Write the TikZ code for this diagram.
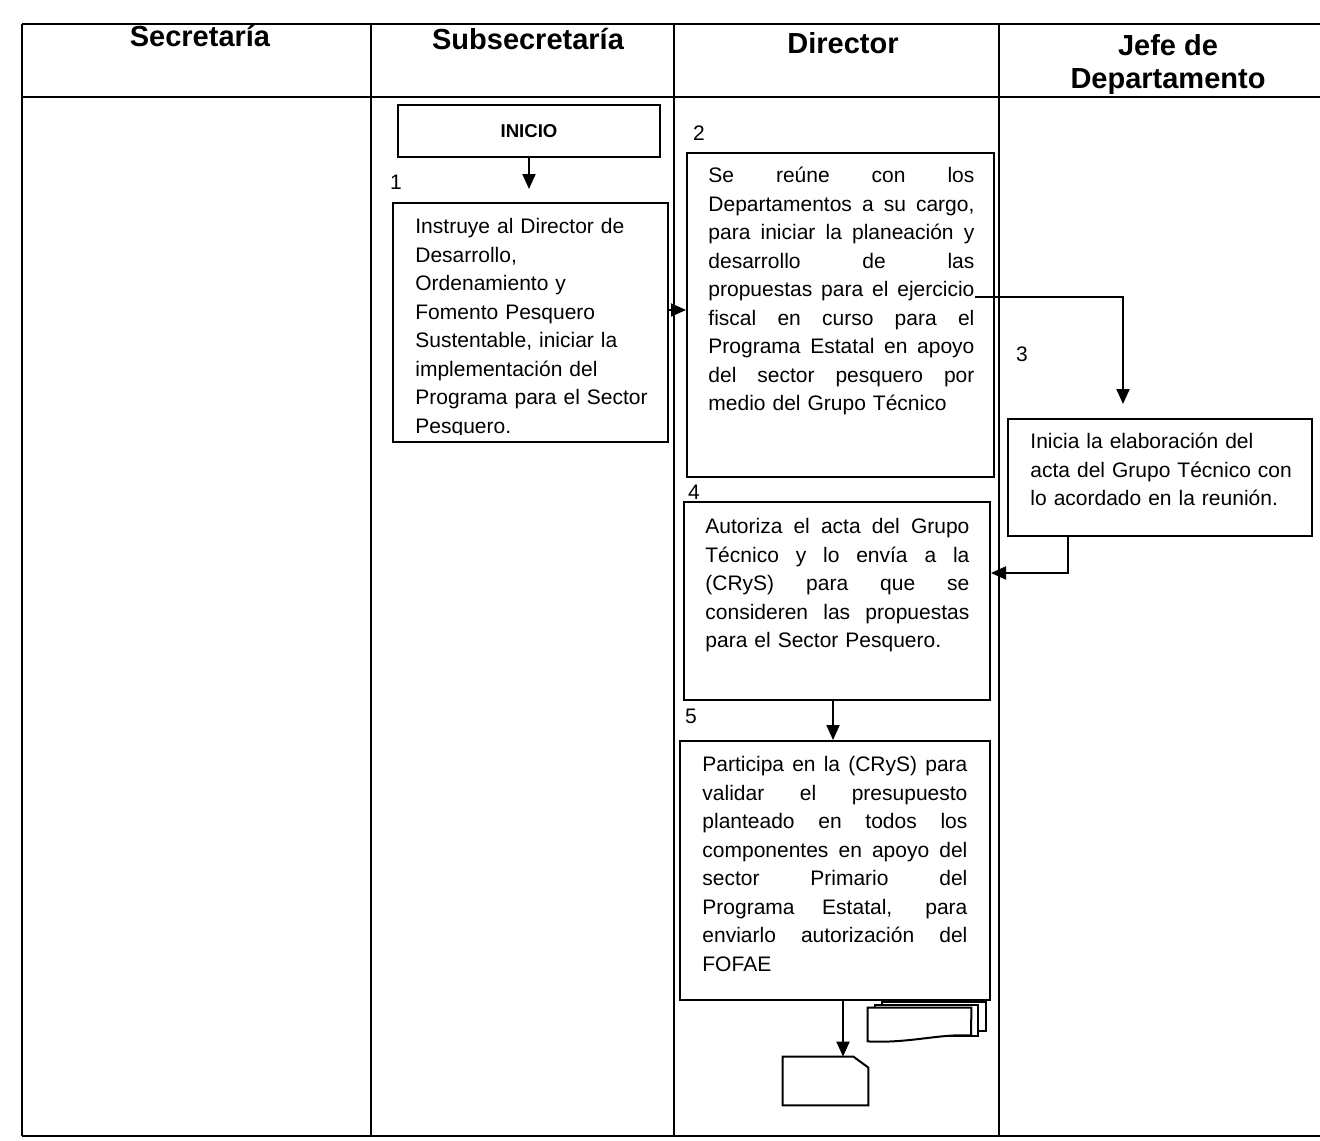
\documentclass[tikz,border=0pt]{standalone}
\usepackage{fontspec}
\setmainfont{Liberation Sans}
\usetikzlibrary{arrows.meta,calc}
\newcommand\jl[2]{\leavevmode\hbox to #1{\spaceskip=0.278em plus 1fil\relax #2}\\}
\begin{document}
\begin{tikzpicture}[x=0.5pt,y=-0.5pt,
  frame/.style={line width=0.75pt},
  box/.style={draw, line width=1pt, rectangle, inner sep=0pt},
  ghost/.style={rectangle, inner sep=0pt},
  docline/.style={line width=1pt, fill=white},
  txt/.style={anchor=north west, inner sep=0pt, align=left, font=\fontsize{10.5}{14.25}\selectfont},
  num/.style={inner sep=0pt, font=\fontsize{10.5}{12}\selectfont},
  hdr/.style={inner sep=0pt, font=\fontsize{14.5}{16.5}\selectfont\bfseries, align=center},
  arr/.style={line width=1pt, -{Triangle[length=7.5pt,width=6.5pt]}},
]
\useasboundingbox (0,0) rectangle (1320,1140);
% table frame
\draw[frame] (22,24) -- (1320,24);
\draw[frame] (22,97) -- (1320,97);
\draw[frame] (22,1136) -- (1320,1136);
\draw[frame] (22,24) -- (22,1136);
\draw[frame] (371,24) -- (371,1136);
\draw[frame] (674,24) -- (674,1136);
\draw[frame] (999,24) -- (999,1136);
% headers
\node[hdr] (h1) at (200,36) {Secretaría};
\node[hdr] (h2) at (528,39) {Subsecretaría};
\node[hdr] (h3) at (843,43) {Director};
\node[hdr] (h4) at (1168,65) {Jefe de\\Departamento};
% boxes
\node[box, minimum width=131pt, minimum height=26pt] (inicio) at (529,131) {\fontsize{9.3}{11}\selectfont\bfseries INICIO};
\node[box, minimum width=137.5pt, minimum height=119.5pt] (b1) at (530.5,322.5) {};
\node[box, minimum width=153.5pt, minimum height=162pt] (b2) at (840.5,315) {};
\node[box, minimum width=152pt, minimum height=58.5pt] (b3) at (1160,477.5) {};
\node[box, minimum width=153pt, minimum height=99pt] (b4) at (837,601) {};
\node[box, minimum width=155pt, minimum height=129.5pt] (b5) at (835,870.5) {};
% texts
\begin{scope}
\clip (b1.north west) rectangle ($(b1.south east)+(0,-9)$);
\node[txt, text width=125pt] (t1) at ($(b1.north west)+(23,9.5)$) {\rule{0pt}{11pt}Instruye al Director de\\ Desarrollo,\\ Ordenamiento y\\ Fomento Pesquero\\ Sustentable, iniciar la\\ implementación del\\ Programa para el Sector\\ Pesquero.};
\end{scope}
\node[txt, text width=134pt] (t2) at ($(b2.north west)+(22,8.5)$) {\rule{0pt}{11pt}\jl{133pt}{Se reúne con los}\jl{133pt}{Departamentos a su cargo,}\jl{133pt}{para iniciar la planeación y}\jl{133pt}{desarrollo de las}\jl{133pt}{propuestas para el ejercicio}\jl{133pt}{fiscal en curso para el}\jl{133pt}{Programa Estatal en apoyo}\jl{133pt}{del sector pesquero por}medio del Grupo Técnico};
\node[txt, text width=140pt] (t3) at ($(b3.north west)+(23,8.5)$) {\rule{0pt}{11pt}Inicia la elaboración del\\ acta del Grupo Técnico con\\ lo acordado en la reunión.};
\node[txt, text width=133pt] (t4) at ($(b4.north west)+(22,10.5)$) {\rule{0pt}{11pt}\jl{132pt}{Autoriza el acta del Grupo}\jl{132pt}{Técnico y lo envía a la}\jl{132pt}{(CRyS) para que se}\jl{132pt}{consideren las propuestas}para el Sector Pesquero.};
\node[txt, text width=133.5pt] (t5) at ($(b5.north west)+(23,9.5)$) {\rule{0pt}{11pt}\jl{132.5pt}{Participa en la (CRyS) para}\jl{132.5pt}{validar el presupuesto}\jl{132.5pt}{planteado en todos los}\jl{132.5pt}{componentes en apoyo del}\jl{132.5pt}{sector Primario del}\jl{132.5pt}{Programa Estatal, para}\jl{132.5pt}{enviarlo autorización del}FOFAE};
% step numbers
\node[num] (n1) at (396,182) {1};
\node[num] (n2) at (699,133) {2};
\node[num] (n3) at (1022,354) {3};
\node[num] (n4) at (694,492) {4};
\node[num] (n5) at (691,716) {5};
% document symbols
\node[ghost, minimum width=42.5pt, minimum height=24pt] (doc) at (825.5,1081) {};
\draw[docline] (doc.south west) -- (doc.north west) -- ($(doc.north east)+(-15,0)$) -- ($(doc.north east)+(0,11)$) -- (doc.south east) -- cycle;
\node[ghost, minimum width=51.5pt, minimum height=16.5pt] (mdoc) at (919.5,1024.5) {};
\draw[docline] ($(mdoc)+(-37.5,-22.5)$) rectangle ($(mdoc)+(66.5,6.5)$);
\draw[docline] ($(mdoc)+(-44.5,-19.5)$) rectangle ($(mdoc)+(58.5,11.5)$);
\draw[docline] (mdoc.south west) -- (mdoc.north west) -- (mdoc.north east) -- ($(mdoc)+(51.5,11)$) .. controls ($(mdoc)+(20,9)$) and ($(mdoc)+(-10,19)$) .. (mdoc.south west) -- cycle;
% connectors
\draw[arr, shorten >=6.5pt] (inicio.south) -- (inicio.south |- b1.north);
\draw[arr] (b1.east |- 0,310) -- (b2.west |- 0,310);
\draw[arr, shorten >=7pt] ($(b2.east |- 0,297)+(-20,0)$) -| ($(b3.north)+(-37,0)$);
\draw[arr] ($(b3.south)+(-92,0)$) |- (b4.east |- 0,573);
\draw[arr] (b4.south -| 833,0) -- (b5.north -| 833,0);
\draw[arr] (b5.south -| 843,0) -- (doc.north -| 843,0);
\end{tikzpicture}
\end{document}
